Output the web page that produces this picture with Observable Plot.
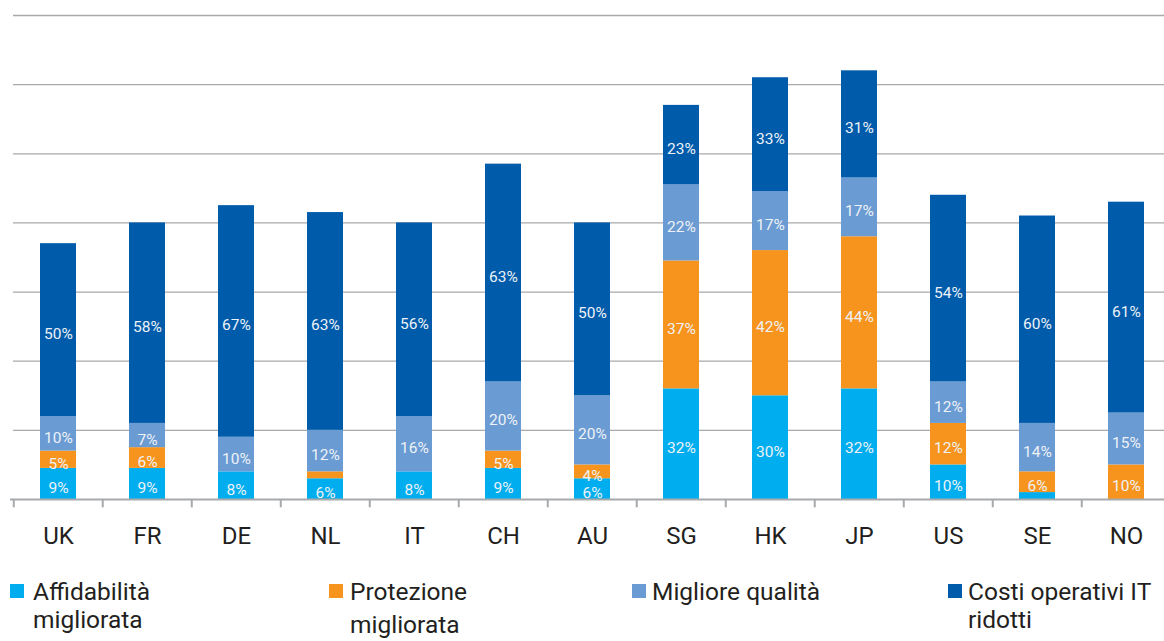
<!DOCTYPE html>
<html>
<head>
<meta charset="utf-8">
<script src="https://cdn.jsdelivr.net/npm/d3@7"></script>
<script src="https://cdn.jsdelivr.net/npm/@observablehq/plot@0.6"></script>
<style>
  html, body { margin: 0; padding: 0; background: #fff; overflow: hidden; }
  #wrap { position: relative; width: 1164px; height: 641px; overflow: hidden; font-family: Roboto, sans-serif; }
  #chart { position: absolute; left: 0; top: 0; }
  #chart svg { max-width: none !important; }
  #legend { position: absolute; left: 0; top: 0; }
</style>
</head>
<body>
<div id="wrap">
  <div id="chart"></div>
  <svg id="legend" width="1164" height="641"></svg>
</div>
<script>
const countries = ["UK","FR","DE","NL","IT","CH","AU","SG","HK","JP","US","SE","NO"];
const seriesNames = ["Affidabilità migliorata","Protezione migliorata","Migliore qualità","Costi operativi IT ridotti"];
const colors = ["#00aeef","#f7941d","#6b9bd3","#005bab"];
const affidabilita = [9, 9, 8, 6, 8, 9, 6, 32, 30, 32, 10, 2, 0];
const protezione   = [5, 6, 0, 2, 0, 5, 4, 37, 42, 44, 12, 6, 10];
const qualita      = [10, 7, 10, 12, 16, 20, 20, 22, 17, 17, 12, 14, 15];
const costi        = [50, 58, 67, 63, 56, 63, 50, 23, 33, 31, 54, 60, 61];
const gridTicks = [20, 40, 60, 80, 100, 120, 140];

const seriesValues = [affidabilita, protezione, qualita, costi];
const data = [];
seriesValues.forEach((vals, s) => {
  vals.forEach((v, i) => data.push({country: countries[i], series: seriesNames[s], order: s, value: v}));
});

const chart = Plot.plot({
  width: 1176,
  height: 560,
  marginLeft: 10,
  marginRight: 2,
  marginTop: 15,
  marginBottom: 61,
  style: {fontFamily: "Roboto, sans-serif", background: "transparent", overflow: "visible", maxWidth: "none"},
  x: {domain: countries, paddingInner: 0.6, paddingOuter: 0.3, label: null},
  y: {domain: [0, 140], axis: null},
  color: {domain: seriesNames, range: colors},
  marks: [
    Plot.ruleY(gridTicks, {stroke: "#a7a9ac", strokeWidth: 1.3, insetLeft: 3}),
    Plot.barY(data, Plot.stackY({x: "country", y: "value", fill: "series", order: seriesNames})),
    Plot.text(data, Plot.stackY({
      x: "country", y: "value", z: "series", order: seriesNames,
      text: d => d.value >= 4 ? d.value + "%" : "", fill: "#eef2f7", fontSize: 15.5, dy: 4
    })),
    Plot.ruleY([0], {stroke: "#a7a9ac", strokeWidth: 2.2}),
    Plot.ruleX(countries, {x: d => d, dx: -44.75, y1: 0, y2: -2.4, stroke: "#a7a9ac", strokeWidth: 2}),
    Plot.axisX({tickSize: 0, tickPadding: 27, fontSize: 24, fill: "#231f20", label: null})
  ]
});
document.getElementById("chart").appendChild(chart);

// legend
const legendItems = [
  {lines: ["Affidabilità", "migliorata"], sx: 10, tx: 33, lh: 28},
  {lines: ["Protezione", "migliorata"], sx: 329, tx: 350, lh: 33},
  {lines: ["Migliore qualità"], sx: 632, tx: 652, lh: 28},
  {lines: ["Costi operativi IT", "ridotti"], sx: 948, tx: 968, lh: 28}
];
const leg = d3.select("#legend");
legendItems.forEach((it, i) => {
  leg.append("rect").attr("x", it.sx).attr("y", 584).attr("width", 14).attr("height", 14).attr("fill", colors[i]);
  const t = leg.append("text").attr("x", it.tx).attr("y", 600)
    .attr("font-family", "Roboto, sans-serif").attr("font-size", 24.5).attr("fill", "#231f20");
  it.lines.forEach((ln, j) => {
    t.append("tspan").attr("x", it.tx).attr("y", 600 + j * it.lh).text(ln);
  });
});
</script>
</body>
</html>
